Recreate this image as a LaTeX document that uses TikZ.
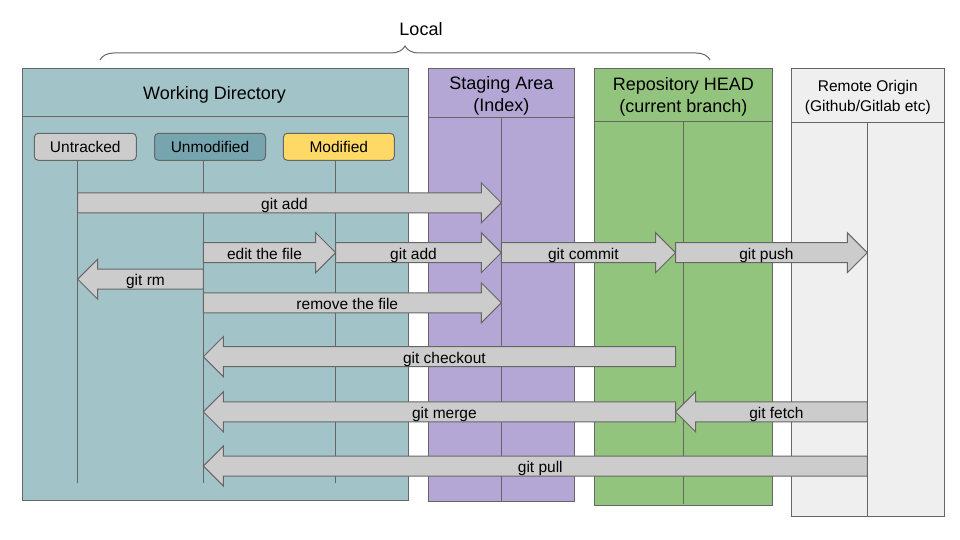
\documentclass[tikz,border=0pt]{standalone}
\usepackage{fontspec}
\setmainfont{Liberation Sans}
\usetikzlibrary{calc, decorations.pathreplacing}
\definecolor{wdcol}{HTML}{A2C4C9}
\definecolor{stagecol}{HTML}{B4A7D6}
\definecolor{headcol}{HTML}{93C47D}
\definecolor{remotecol}{HTML}{EFEFEF}
\definecolor{untrcol}{HTML}{CCCCCC}
\definecolor{unmodcol}{HTML}{76A5AF}
\definecolor{modcol}{HTML}{FFD966}
\definecolor{arrowcol}{HTML}{CCCCCC}
\definecolor{linecol}{HTML}{666666}
\tikzset{
x=1pt, y=-1pt, % one unit is one pixel, y grows downwards
frame/.style={draw=linecol, line width=1pt},
panel/.style={frame, anchor=north west, inner sep=0pt}, % the big columns
header/.style={align=center, yshift=-2.5pt, font=\fontsize{18}{22}\selectfont},
filebox/.style={frame, rounded corners=4pt, minimum height=27, inner sep=0pt, font=\fontsize{15.5}{18}\selectfont},
life/.style={draw=linecol, line width=1pt}, % vertical lifelines
blockarrow/.style={frame, fill=arrowcol, line join=miter},
arrowlabel/.style={anchor=base, yshift=-6.3pt, inner sep=0pt, font=\fontsize{15.5}{18}\selectfont},
localbrace/.style={draw=linecol, line width=1pt, decorate, decoration={brace, amplitude=14pt}},
}
% block arrow from #1 to #2 with text #3
\newcommand{\gitarrow}[3]{%
\draw[blockarrow] let \p1=(#1), \p2=(#2), \p3=($(#2)!20pt!(#1)$), \p4=($(\p1)!.5!(\p2)$) in
 (\x1,\y1+10pt) -- (\x3,\y1+10pt) -- (\x3,\y1+20pt) -- (\x2,\y2)
 -- (\x3,\y1-20pt) -- (\x3,\y1-10pt) -- (\x1,\y1-10pt) -- cycle
 node[arrowlabel] at ($(\p4)!5pt!(\p1)$) {#3};
}

\begin{document}
\begin{tikzpicture}
\useasboundingbox (0,0) rectangle (960,540);

\draw[localbrace] (100,60) -- (710,60);
\node[font=\fontsize{18}{22}\selectfont] at (421,29.5) (local) {Local};

% columns
\node[panel, fill=wdcol, minimum width=386, minimum height=431] at (21.5,68.5) (wd) {};
\node[panel, fill=stagecol, minimum width=146, minimum height=432.5] at (428.3,68.5) (stage) {};
\node[panel, fill=headcol, minimum width=178, minimum height=436] at (594.3,68.5) (head) {};
\node[panel, fill=remotecol, minimum width=153, minimum height=447.5] at (791.3,68.5) (remote) {};

\node[header] at (214.5,92.4) (wdtitle) {Working Directory};
\node[header] at (501.3,93.2) (stagetitle) {Staging Area\\(Index)};
\node[header] at (683.3,94.8) (headtitle) {Repository HEAD\\(current branch)};
\node[header, font=\fontsize{15.5}{20}\selectfont] at (867.8,95.3) (remotetitle) {Remote Origin\\(Github/Gitlab etc)};

\draw[frame] (21.5,116.3) -- (407.5,116.3);
\draw[frame] (428.3,118) -- (574.3,118);
\draw[frame] (594.3,121.3) -- (772.3,121.3);
\draw[frame] (791.3,122.3) -- (944.3,122.3);

% file states
\node[filebox, fill=untrcol, minimum width=102] at (85.3,146.8) (untracked) {Untracked};
\node[filebox, fill=unmodcol, minimum width=111] at (210,146.8) (unmodified) {Unmodified};
\node[filebox, fill=modcol, minimum width=111] at (338.8,146.8) (modified) {Modified};

% lifelines
\coordinate (untr) at (77.7,483);
\coordinate (unmod) at (203.3,483);
\coordinate (mod) at (335.7,483);
\coordinate (idx) at (501.3,501);
\coordinate (repo) at (683.3,504.3);
\coordinate (repoin) at (675.5,504.3); % where the arrows meet the branch
\coordinate (orig) at (867.3,516);
\draw[life] (untracked.south -| untr) -- (untr);
\draw[life] (unmodified.south -| unmod) -- (unmod);
\draw[life] (modified.south -| mod) -- (mod);
\draw[life] (501.3,118) -- (idx);
\draw[life] (683.3,121.3) -- (repo);
\draw[life] (867.3,122.3) -- (orig);

% arrow rows
\coordinate (lvadd) at (0,202.8);
\coordinate (lvedit) at (0,252.7);
\coordinate (lvrm) at (0,279.2);
\coordinate (lvremove) at (0,302.8);
\coordinate (lvcheckout) at (0,356.7);
\coordinate (lvmerge) at (0,411.8);
\coordinate (lvpull) at (0,466);

\gitarrow{untr |- lvadd}{idx |- lvadd}{git add}
\gitarrow{unmod |- lvedit}{mod |- lvedit}{edit the file}
\gitarrow{mod |- lvedit}{idx |- lvedit}{git add}
\gitarrow{idx |- lvedit}{repoin |- lvedit}{git commit}
\gitarrow{repoin |- lvedit}{orig |- lvedit}{git push}
\gitarrow{unmod |- lvrm}{untr |- lvrm}{git rm}
\gitarrow{unmod |- lvremove}{idx |- lvremove}{remove the file}
\gitarrow{repoin |- lvcheckout}{unmod |- lvcheckout}{git checkout}
\gitarrow{repoin |- lvmerge}{unmod |- lvmerge}{git merge}
\gitarrow{orig |- lvmerge}{repoin |- lvmerge}{git fetch}
\gitarrow{orig |- lvpull}{unmod |- lvpull}{git pull}

\end{tikzpicture}
\end{document}
